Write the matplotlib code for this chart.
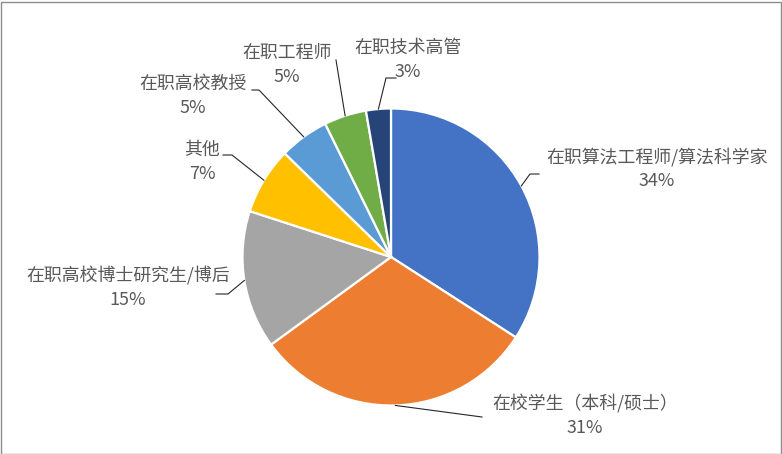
import numpy as np
import matplotlib
matplotlib.use("Agg")
import matplotlib.pyplot as plt
from matplotlib.patches import Rectangle

plt.rcParams['font.family'] = ['Noto Sans CJK SC', 'DejaVu Sans']

# data (percent of respondents)
labels = ['在职算法工程师/算法科学家', '在校学生（本科/硕士）', '在职高校博士研究生/博后',
          '其他', '在职高校教授', '在职工程师', '在职技术高管']
values = [34.1, 30.85, 15.04, 7.3, 5.4, 4.6, 2.7]
colors = ['#4472C4', '#ED7D31', '#A5A5A5', '#FFC000', '#5B9BD5', '#70AD47', '#264478']

W, H = 782, 454
CX, CY, R = 391, 257, 148.5

# label layout in pixels: text center, leader elbow, leader end
text_pos = [(657, 169), (585, 416), (128, 288), (202, 162), (193, 96), (287, 65), (408, 60)]
elbow = [(530, 174), None, (228, 294), (232, 155), (259, 90), None, (386, 78)]
lead_end = [(539, 174), (482, 417), (216, 294), (223, 155), (252, 90), (336, 60), (396, 78)]


def to_data(p):
    return ((p[0] - CX) / R, (CY - p[1]) / R)


fig = plt.figure(figsize=(W / 100, H / 100), dpi=100)
ax = fig.add_axes([(CX - R) / W, (H - CY - R) / H, 2 * R / W, 2 * R / H])

wedges, _ = ax.pie(values, colors=colors, startangle=90, counterclock=False, radius=1,
                   wedgeprops=dict(edgecolor='white', linewidth=1.6))
ax.set_xlim(-1, 1)
ax.set_ylim(-1, 1)
ax.set_aspect('equal')
ax.axis('off')

total = sum(values)
for i, w in enumerate(wedges):
    ang = np.deg2rad((w.theta1 + w.theta2) / 2)
    start = (np.cos(ang), np.sin(ang))
    pts = [start]
    if elbow[i] is not None:
        pts.append(to_data(elbow[i]))
    pts.append(to_data(lead_end[i]))
    xs, ys = zip(*pts)
    ax.plot(xs, ys, color='#262626', lw=0.8, clip_on=False)
    pct = round(values[i] / total * 100)
    tx, ty = to_data(text_pos[i])
    ax.text(tx, ty, f"{labels[i]}\n{pct}%", ha='center', va='center', multialignment='center',
            fontsize=12.9, color='#595959', linespacing=1.4, clip_on=False)

fig.patches.append(Rectangle((0.5 / W, 0.5 / H), 1 - 2 / W, 1 - 2 / H, transform=fig.transFigure,
                             fill=False, edgecolor='#8c8c8c', lw=1))

fig.savefig('out.png', dpi=100, facecolor='white')
